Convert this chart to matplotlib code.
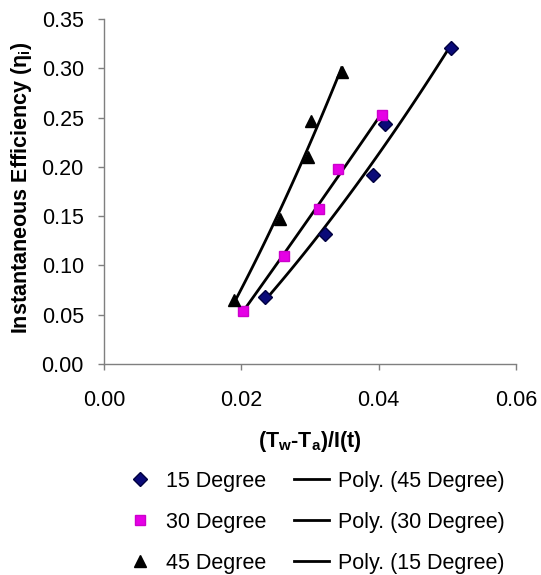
import numpy as np
import matplotlib
matplotlib.use("Agg")
import matplotlib.pyplot as plt

plt.rcParams["font.family"] = ["Liberation Sans", "DejaVu Sans"]
plt.rcParams["mathtext.fontset"] = "custom"
plt.rcParams["mathtext.rm"] = "Liberation Sans"
plt.rcParams["mathtext.bf"] = "Liberation Sans:bold"
plt.rcParams["mathtext.it"] = "Liberation Sans:italic"

# (Tw-Ta)/I(t) and instantaneous efficiency for each tilt angle
x_15 = [0.0235, 0.0322, 0.0392, 0.0409, 0.0506]
eta_15 = [0.068, 0.132, 0.192, 0.243, 0.321]

x_30 = [0.0202, 0.0262, 0.0313, 0.0341, 0.0405]
eta_30 = [0.054, 0.110, 0.157, 0.198, 0.253]

x_45 = [0.0190, 0.0256, 0.0297, 0.0302, 0.0346]
eta_45 = [0.065, 0.147, 0.210, 0.247, 0.296]

x_ticks = [0.00, 0.02, 0.04, 0.06]
y_ticks = [0.00, 0.05, 0.10, 0.15, 0.20, 0.25, 0.30, 0.35]

FS = 15.5
AXIS_GREY = "#7f7f7f"


def poly_trend(x, y, order=2, n=60):
    """Second order polynomial trendline over the data's x range."""
    coef = np.polyfit(x, y, order)
    xs = np.linspace(min(x), max(x), n)
    return xs, np.polyval(coef, xs)


fig = plt.figure(figsize=(5.41, 5.75), dpi=100)
ax = fig.add_axes([104 / 541, 1 - 364 / 575, 412 / 541, 345 / 575])

d15, = ax.plot(x_15, eta_15, linestyle="none", marker="D", markersize=7.5,
               color="#0a0a78", markeredgecolor="#000040", label="15 Degree")
s30, = ax.plot(x_30, eta_30, linestyle="none", marker="s", markersize=7.5,
               color="#e600e6", markeredgecolor="#cc00cc", label="30 Degree")
t45, = ax.plot(x_45, eta_45, linestyle="none", marker="^", markersize=9,
               color="black", label="45 Degree")

trend = {}
for key, xv, yv in [("45", x_45, eta_45), ("30", x_30, eta_30), ("15", x_15, eta_15)]:
    xs, ys = poly_trend(xv, yv)
    trend[key], = ax.plot(xs, ys, color="black", linewidth=2.0,
                          label=f"Poly. ({key} Degree)", zorder=1)

ax.set_xlim(0, 0.06)
ax.set_ylim(0, 0.35)
ax.set_xticks(x_ticks)
ax.set_yticks(y_ticks)
ax.set_xticklabels([f"{v:.2f}" for v in x_ticks], fontsize=FS)
ax.set_yticklabels([f"{v:.2f}" for v in y_ticks], fontsize=FS)
ax.tick_params(direction="out", length=4.5, width=1.0, color=AXIS_GREY)
ax.tick_params(axis="x", pad=14)
ax.tick_params(axis="y", pad=10)

for side in ("top", "right"):
    ax.spines[side].set_visible(False)
for side in ("left", "bottom"):
    ax.spines[side].set_color(AXIS_GREY)
    ax.spines[side].set_linewidth(1.0)

fig.text(22 / 541, 1 - 188 / 575, r"Instantaneous Efficiency (η$_{\mathbf{i}}$)",
         rotation=90, ha="center", va="center", fontsize=FS, fontweight="bold")
fig.text(310 / 541, 1 - 442 / 575, r"(T$_{\mathbf{w}}$-T$_{\mathbf{a}}$)/I(t)",
         ha="center", va="center", fontsize=FS, fontweight="bold")

fig.legend(handles=[d15, s30, t45, trend["45"], trend["30"], trend["15"]],
           ncol=2, loc="upper left", bbox_to_anchor=(122 / 541, 1 - 471 / 575),
           frameon=False, fontsize=FS, handlelength=1.63, handletextpad=0.4,
           columnspacing=1.3, labelspacing=0.92, borderpad=0, borderaxespad=0)

fig.savefig("out.png", dpi=100)
